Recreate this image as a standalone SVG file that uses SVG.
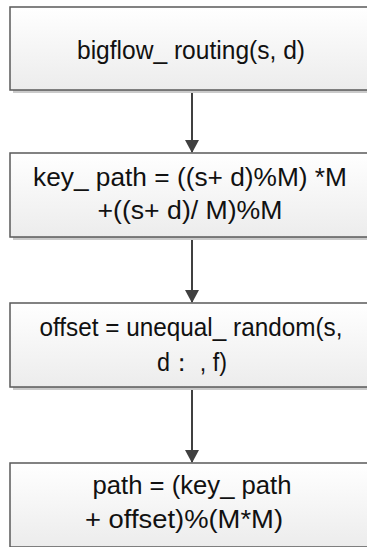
<svg xmlns="http://www.w3.org/2000/svg" width="367" height="547" viewBox="0 0 367 547">
<defs>
<linearGradient id="g" x1="0" y1="0" x2="0" y2="1">
<stop offset="0" stop-color="#ffffff"/>
<stop offset="1" stop-color="#ececec"/>
</linearGradient>
<marker id="ah" markerUnits="userSpaceOnUse" markerWidth="14" markerHeight="14" refX="12" refY="7" orient="auto">
<path d="M0,0 L13,7 L0,14 Z" fill="#404040"/>
</marker>
</defs>
<style>
.sh{fill:#cacaca}
.bx{fill:url(#g);stroke:#5a5a5a;stroke-width:1.5}
.t{font-family:"Liberation Sans",Arial,sans-serif;font-size:25px;fill:#111;text-anchor:middle}
.c{stroke:#404040;stroke-width:2;fill:none;marker-end:url(#ah)}
</style>
<g id="connectors">
<line class="c" x1="192" y1="91" x2="192" y2="152"/>
<line class="c" x1="192" y1="238" x2="192" y2="302"/>
<line class="c" x1="192" y1="388" x2="192" y2="462"/>
</g>
<g id="n1">
<rect class="sh" x="13" y="10" width="364" height="83"/>
<rect class="bx" x="10" y="7" width="364" height="83"/>
<text class="t" x="191" y="59" textLength="228" lengthAdjust="spacingAndGlyphs">bigflow_ routing(s, d)</text>
</g>
<g id="n2">
<rect class="sh" x="13" y="156" width="364" height="84"/>
<rect class="bx" x="10" y="153" width="364" height="84"/>
<text class="t" x="190" y="186" textLength="314" lengthAdjust="spacingAndGlyphs">key_ path =  ((s+  d)%M) *M</text>
<text class="t" x="190" y="219" textLength="185" lengthAdjust="spacingAndGlyphs">+((s+  d)/ M)%M</text>
</g>
<g id="n3">
<rect class="sh" x="13" y="306" width="364" height="84"/>
<rect class="bx" x="10" y="303" width="364" height="84"/>
<text class="t" x="191" y="336" textLength="303" lengthAdjust="spacingAndGlyphs">offset =  unequal_ random(s,</text>
<text class="t" x="192" y="371" textLength="70" lengthAdjust="spacingAndGlyphs">d： , f)</text>
</g>
<g id="n4">
<rect class="sh" x="13" y="466" width="364" height="84"/>
<rect class="bx" x="10" y="463" width="364" height="84"/>
<text class="t" x="192" y="494" textLength="199" lengthAdjust="spacingAndGlyphs">path =  (key_ path</text>
<text class="t" x="184" y="528" textLength="198" lengthAdjust="spacingAndGlyphs">+ offset)%(M*M)</text>
</g>
</svg>
